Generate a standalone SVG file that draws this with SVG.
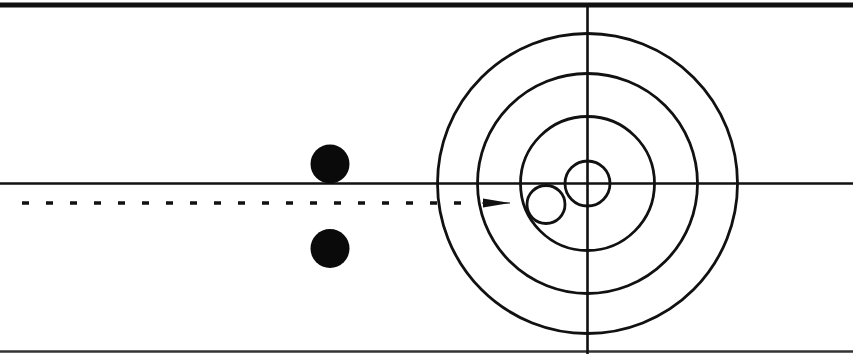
<svg xmlns="http://www.w3.org/2000/svg" width="853" height="354" viewBox="0 0 853 354">
  <defs>
    <marker id="arrow" markerWidth="28" markerHeight="12" refX="27" refY="6" orient="auto" markerUnits="userSpaceOnUse">
      <path d="M0,1.5 L27,6 L0,10.5 Z" fill="#111"/>
    </marker>
    <style>
      .ln { stroke:#111; stroke-width:2.6; fill:none; }
      .ring { stroke:#111; stroke-width:2.8; fill:none; }
      .stone { fill:#0a0a0a; }
    </style>
  </defs>
  <rect width="853" height="354" fill="#fff"/>
  <g id="sheet">
    <line x1="0" y1="5" x2="853" y2="5" stroke="#111" stroke-width="5"/>
    <line x1="0" y1="351.5" x2="853" y2="351.5" stroke="#333" stroke-width="2.5"/>
    <line class="ln" x1="0" y1="183.5" x2="853" y2="183.5"/>
    <line class="ln" x1="587.5" y1="7" x2="587.5" y2="354"/>
  </g>
  <g id="house">
    <circle class="ring" cx="587.5" cy="183.5" r="150"/>
    <circle class="ring" cx="587.5" cy="183.5" r="110"/>
    <circle class="ring" cx="587.5" cy="183.5" r="67"/>
    <circle class="ring" cx="587.5" cy="183.5" r="22.5"/>
  </g>
  <g id="guard-top"><circle class="stone" cx="330" cy="164" r="19.5"/></g>
  <g id="guard-bottom"><circle class="stone" cx="330" cy="248.5" r="19.5"/></g>
  <g id="delivered-stone"><circle class="ring" cx="546" cy="204.5" r="19" fill="#fff"/></g>
  <g id="connectors">
    <line x1="22" y1="203" x2="470" y2="203" stroke="#111" stroke-width="3.4" stroke-dasharray="7 17"/>
    <line x1="482" y1="203" x2="510" y2="203" stroke="#111" stroke-width="1" marker-end="url(#arrow)"/>
  </g>
</svg>
